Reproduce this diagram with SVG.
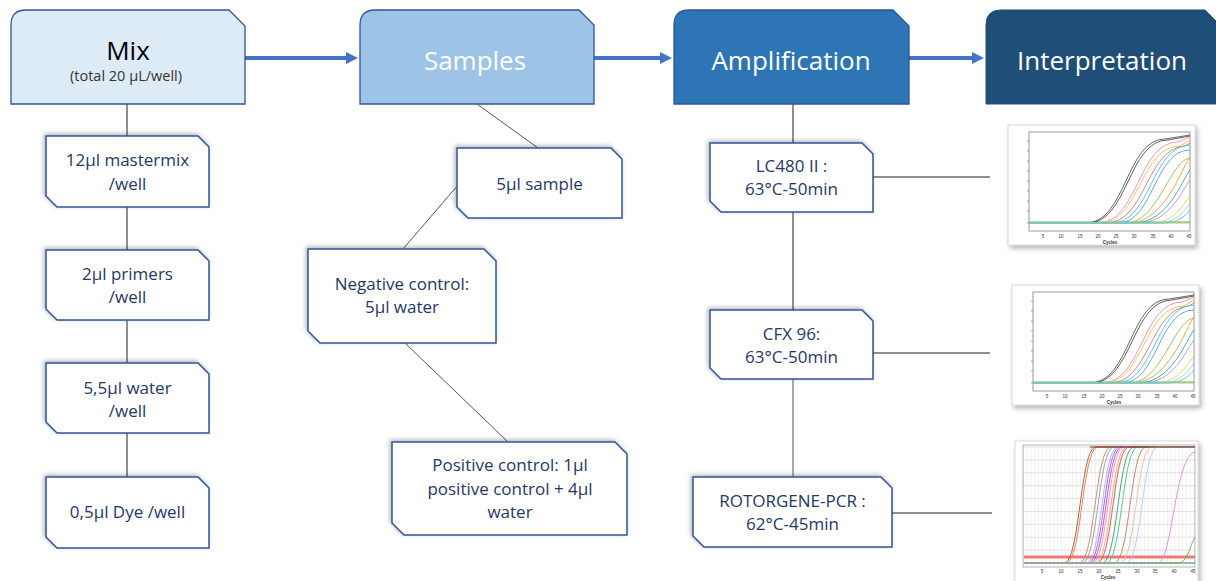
<svg xmlns="http://www.w3.org/2000/svg" xmlns:xlink="http://www.w3.org/1999/xlink" width="1216" height="581" viewBox="0 0 1216 581">
<style>
.hdr{stroke:#2F5597;stroke-width:1.3}
.ht{font-family:"Open Sans","Liberation Sans",sans-serif;font-size:26px;text-anchor:middle}
.sub{fill:#fff;stroke:#2F5597;stroke-width:1.5;filter:url(#bshadow)}
.st{font-family:"Open Sans","Liberation Sans",sans-serif;font-size:17px;fill:#1F3864;text-anchor:middle}
.con{stroke:#222;stroke-width:1;fill:none}
.con2{stroke:#555;stroke-width:1;fill:none}
.arr{stroke:#4472C4;stroke-width:4;fill:none;marker-end:url(#ah)}
.cv{fill:none;stroke-width:0.9}
.tk{font-family:"Liberation Sans",sans-serif;font-size:4.5px;fill:#333;text-anchor:middle}
</style>
<defs>
<marker id="ah" markerUnits="userSpaceOnUse" markerWidth="12" markerHeight="12" refX="2" refY="6" orient="auto">
<path d="M0,0 L12,6 L0,12 Z" fill="#4472C4"/>
</marker>
<filter id="bshadow" x="-10%" y="-10%" width="120%" height="120%">
<feDropShadow dx="-1.5" dy="-1.5" stdDeviation="2" flood-color="#000" flood-opacity="0.3"/>
</filter>
<filter id="cshadow" x="-10%" y="-10%" width="125%" height="125%">
<feDropShadow dx="2" dy="3" stdDeviation="2.5" flood-color="#000" flood-opacity="0.3"/>
</filter>
<pattern id="vgrid" x="1023" y="0" width="3.79" height="10" patternUnits="userSpaceOnUse">
<line x1="0.2" y1="0" x2="0.2" y2="10" stroke="#d8d8d8" stroke-width="0.5"/>
</pattern>
<g id="qpcr">
<rect x="1008" y="125" width="187" height="120" fill="#fff" stroke="#cfcfcf" stroke-width="0.8" filter="url(#cshadow)"/>
<rect x="1029" y="132" width="161" height="99" fill="#fff" stroke="#555" stroke-width="0.6"/>
<g class="cv">
<path d="M1029,223 L1190,223" stroke="#c8c040"/>
<path d="M1029,222 L1190,222" stroke="#60a060"/>
<path d="M1029,223 L1086,223 C1126,223 1126,139 1165,139 L1190,135" stroke="#2e6b4f"/>
<path d="M1029,223 L1088,223 C1128,223 1128,140 1168,140 L1190,136" stroke="#7a3b3b"/>
<path d="M1029,223 L1098,223 C1138,223 1138,142 1178,142 L1190,137" stroke="#e28fb8"/>
<path d="M1029,223 L1100,223 C1140,223 1140,146 1180,146 L1190,140" stroke="#e8c25a"/>
<path d="M1029,223 L1106,223 C1146,223 1146,148 1185,146 L1190,143" stroke="#e87070"/>
<path d="M1029,223 L1112,223 C1151,223 1151,146 1190,145" stroke="#3ec5e6"/>
<path d="M1029,223 L1118,223 C1154,223 1154,150 1190,150" stroke="#5a9bd5"/>
<path d="M1029,223 L1126,223 C1158,223 1170,160 1190,158" stroke="#90c050"/>
<path d="M1029,223 L1128,223 C1165,223 1182,167 1190,157" stroke="#e3a03c"/>
<path d="M1029,223 L1134,223 C1168,223 1182,180 1190,170" stroke="#36a596"/>
<path d="M1029,223 L1138,223 C1170,223 1182,190 1190,180" stroke="#c08ad8"/>
<path d="M1029,223 L1150,223 C1174,223 1182,206 1190,196" stroke="#e6d34c"/>
<path d="M1029,223 L1156,223 C1176,223 1184,212 1190,203" stroke="#9ad0e0"/>
<path d="M1029,223 L1162,223 C1178,223 1185,216 1190,210" stroke="#4fd0c8"/>
</g>
<g stroke="#555" stroke-width="0.5">
<line x1="1027" y1="141" x2="1029" y2="141"/><line x1="1027" y1="151" x2="1029" y2="151"/><line x1="1027" y1="161" x2="1029" y2="161"/><line x1="1027" y1="171" x2="1029" y2="171"/><line x1="1027" y1="181" x2="1029" y2="181"/><line x1="1027" y1="191" x2="1029" y2="191"/><line x1="1027" y1="201" x2="1029" y2="201"/><line x1="1027" y1="211" x2="1029" y2="211"/><line x1="1027" y1="223" x2="1029" y2="223"/>
</g>
<text class="tk" x="1043" y="238">5</text><text class="tk" x="1061" y="238">10</text><text class="tk" x="1080" y="238">15</text><text class="tk" x="1098" y="238">20</text><text class="tk" x="1116" y="238">25</text><text class="tk" x="1134" y="238">30</text><text class="tk" x="1153" y="238">35</text><text class="tk" x="1171" y="238">40</text><text class="tk" x="1189" y="238">45</text>
<text class="tk" x="1110" y="243.5" font-weight="bold">Cycles</text>
</g>
</defs>

<!-- connectors -->
<g id="connectors">
<line class="arr" x1="245" y1="58" x2="348" y2="58"/>
<line class="arr" x1="594" y1="58" x2="662" y2="58"/>
<line class="arr" x1="909" y1="58" x2="974" y2="58"/>
<line class="con" x1="127" y1="104" x2="127" y2="136"/>
<line class="con" x1="127" y1="207" x2="127" y2="250"/>
<line class="con" x1="127" y1="320" x2="127" y2="363"/>
<line class="con" x1="127" y1="433" x2="127" y2="477"/>
<line class="con2" x1="477" y1="104" x2="538" y2="148"/>
<line class="con2" x1="458" y1="185" x2="403" y2="249"/>
<line class="con2" x1="405" y1="343" x2="508" y2="442"/>
<line class="con" x1="793" y1="104" x2="793" y2="143"/>
<line class="con" x1="793" y1="212" x2="793" y2="310"/>
<line class="con2" x1="793" y1="379" x2="793" y2="477"/>
<line class="con" x1="873" y1="177" x2="990" y2="177"/>
<line class="con" x1="873" y1="353" x2="990" y2="353"/>
<line class="con" x1="892" y1="513" x2="992" y2="513"/>
</g>

<!-- headers -->
<g id="mix">
<path class="hdr" d="M11,104 L11,25 Q11,10 26,10 L229,10 L245,26 L245,104 Z" fill="#DDEBF7"/>
<text class="ht" x="128" y="60" fill="#000">Mix</text>
<text x="126" y="81" font-family="'Open Sans','Liberation Sans',sans-serif" font-size="14.5" fill="#333" text-anchor="middle">(total 20 µL/well)</text>
</g>
<g id="samples">
<path class="hdr" d="M360,104 L360,25 Q360,10 375,10 L579,10 L594,25 L594,104 Z" fill="#9DC3E6"/>
<text class="ht" x="475" y="70" fill="#fff">Samples</text>
</g>
<g id="amplification">
<path class="hdr" d="M674,104 L674,25 Q674,10 689,10 L893,10 L909,26 L909,104 Z" fill="#2E75B6"/>
<text class="ht" x="791" y="70" fill="#fff">Amplification</text>
</g>
<g id="interpretation">
<path d="M986,104 L986,25 Q986,10 1001,10 L1205,10 L1216,21 L1216,104 Z" fill="#1F4E79" stroke="#1F4E79" stroke-width="1"/>
<text class="ht" x="1102" y="70" fill="#fff">Interpretation</text>
</g>

<!-- mix column -->
<g id="mastermix">
<path class="sub" d="M46,136 L198,136 L209,147 L209,207 L57,207 L46,196 Z"/>
<text class="st" x="127.5" y="166">12µl mastermix</text>
<text class="st" x="127.5" y="190">/well</text>
</g>
<g id="primers">
<path class="sub" d="M46,250 L198,250 L209,261 L209,320 L57,320 L46,309 Z"/>
<text class="st" x="127.5" y="280">2µl primers</text>
<text class="st" x="127.5" y="303">/well</text>
</g>
<g id="water">
<path class="sub" d="M46,363 L198,363 L209,374 L209,433 L57,433 L46,422 Z"/>
<text class="st" x="127.5" y="394">5,5µl water</text>
<text class="st" x="127.5" y="417">/well</text>
</g>
<g id="dye">
<path class="sub" d="M46,477 L198,477 L209,488 L209,548 L57,548 L46,537 Z"/>
<text class="st" x="127.5" y="518">0,5µl Dye /well</text>
</g>

<!-- samples column -->
<g id="sample">
<path class="sub" d="M457,148 L611,148 L622,159 L622,218 L468,218 L457,207 Z"/>
<text class="st" x="539.5" y="190">5µl sample</text>
</g>
<g id="negative">
<path class="sub" d="M308,249 L484,249 L496,261 L496,343 L320,343 L308,331 Z"/>
<text class="st" x="402" y="290">Negative control:</text>
<text class="st" x="402" y="313">5µl water</text>
</g>
<g id="positive">
<path class="sub" d="M392,442 L615,442 L627,454 L627,535 L404,535 L392,523 Z"/>
<text class="st" x="510" y="471">Positive control: 1µl</text>
<text class="st" x="510" y="495">positive control + 4µl</text>
<text class="st" x="510" y="518">water</text>
</g>

<!-- amplification column -->
<g id="lc480">
<path class="sub" d="M710,143 L862,143 L873,154 L873,212 L721,212 L710,201 Z"/>
<text class="st" x="791.5" y="172">LC480 II :</text>
<text class="st" x="791.5" y="195">63°C-50min</text>
</g>
<g id="cfx96">
<path class="sub" d="M710,310 L862,310 L873,321 L873,379 L721,379 L710,368 Z"/>
<text class="st" x="791.5" y="340">CFX 96:</text>
<text class="st" x="791.5" y="363">63°C-50min</text>
</g>
<g id="rotorgene">
<path class="sub" d="M693,477 L881,477 L892,488 L892,547 L704,547 L693,536 Z"/>
<text class="st" x="792.5" y="507">ROTORGENE-PCR :</text>
<text class="st" x="792.5" y="530">62°C-45min</text>
</g>

<!-- charts -->
<g id="chart-lc480">
<use xlink:href="#qpcr"/>
</g>
<g id="chart-cfx96">
<use xlink:href="#qpcr" transform="translate(4,160)"/>
</g>
<g id="chart-rotorgene">
<rect x="1015" y="441" width="183" height="145" fill="#fff" stroke="#cfcfcf" stroke-width="0.8" filter="url(#cshadow)"/>
<rect x="1023" y="445" width="172" height="122" fill="url(#vgrid)"/>
<g stroke="#cfcfcf" stroke-width="0.6">
<line x1="1023" y1="447" x2="1195" y2="447"/><line x1="1023" y1="459.9" x2="1195" y2="459.9"/><line x1="1023" y1="472.8" x2="1195" y2="472.8"/><line x1="1023" y1="485.7" x2="1195" y2="485.7"/><line x1="1023" y1="498.6" x2="1195" y2="498.6"/><line x1="1023" y1="511.4" x2="1195" y2="511.4"/><line x1="1023" y1="524.3" x2="1195" y2="524.3"/><line x1="1023" y1="537.2" x2="1195" y2="537.2"/><line x1="1023" y1="550.1" x2="1195" y2="550.1"/>
</g>
<rect x="1023" y="445" width="172" height="122" fill="none" stroke="#888" stroke-width="0.6"/>
<line x1="1024" y1="557" x2="1195" y2="557" stroke="#f07878" stroke-width="3"/>
<g class="cv">
<path d="M1024,563 L1195,563" stroke="#2e6b4f"/>
<path d="M1024,563 L1064,563 C1080,563 1080,447 1096,447 L1195,447" stroke="#a0522d"/>
<path d="M1024,563 L1066,563 C1082,563 1082,447 1098,447 L1195,447" stroke="#e8734a"/>
<path d="M1024,563 L1079,563 C1095,563 1095,447 1111,447 L1195,447" stroke="#b8866b"/>
<path d="M1024,563 L1082,563 C1098,563 1098,447 1114,447 L1195,447" stroke="#999"/>
<path d="M1024,563 L1086,563 C1102,563 1102,447 1118,447 L1195,447" stroke="#b7a6e8"/>
<path d="M1024,563 L1088,563 C1104,563 1104,447 1120,447 L1195,447" stroke="#7b68ee"/>
<path d="M1024,563 L1090,563 C1106,563 1106,447 1122,447 L1195,447" stroke="#d040c0"/>
<path d="M1024,563 L1092,563 C1108,563 1108,447 1124,447 L1195,447" stroke="#e890c8"/>
<path d="M1024,563 L1095,563 C1111,563 1111,447 1127,447 L1195,447" stroke="#f0a070"/>
<path d="M1024,563 L1097,563 C1113,563 1113,447 1129,447 L1195,447" stroke="#e04848"/>
<path d="M1024,563 L1102,563 C1118,563 1118,447 1134,447 L1195,447" stroke="#2e9e6a"/>
<path d="M1024,563 L1106,563 C1122,563 1122,447 1138,447 L1195,447" stroke="#4cc080"/>
<path d="M1024,563 L1114,563 C1130,563 1130,447 1146,447 L1195,447" stroke="#b08060"/>
<path d="M1024,563 L1120,563 C1136,563 1136,447 1152,447 L1195,447" stroke="#f3b59a"/>
<path d="M1024,563 L1126,563 C1142,563 1142,447 1158,447 L1195,447" stroke="#b0c8f0"/>
<path d="M1024,563 L1158,563 C1172,563 1175,455 1195,452" stroke="#d78be0"/>
<path d="M1024,563 L1178,563 C1188,563 1190,545 1195,537" stroke="#60b060"/>
<path d="M1090,447 L1195,447" stroke="#6b3a2a" stroke-width="1.2"/>
</g>
<text class="tk" x="1042" y="573">5</text><text class="tk" x="1061" y="573">10</text><text class="tk" x="1080" y="573">15</text><text class="tk" x="1099" y="573">20</text><text class="tk" x="1118" y="573">25</text><text class="tk" x="1137" y="573">30</text><text class="tk" x="1155" y="573">35</text><text class="tk" x="1174" y="573">40</text><text class="tk" x="1193" y="573">45</text>
<text class="tk" x="1108" y="579" font-weight="bold">Cycles</text>
</g>
</svg>
